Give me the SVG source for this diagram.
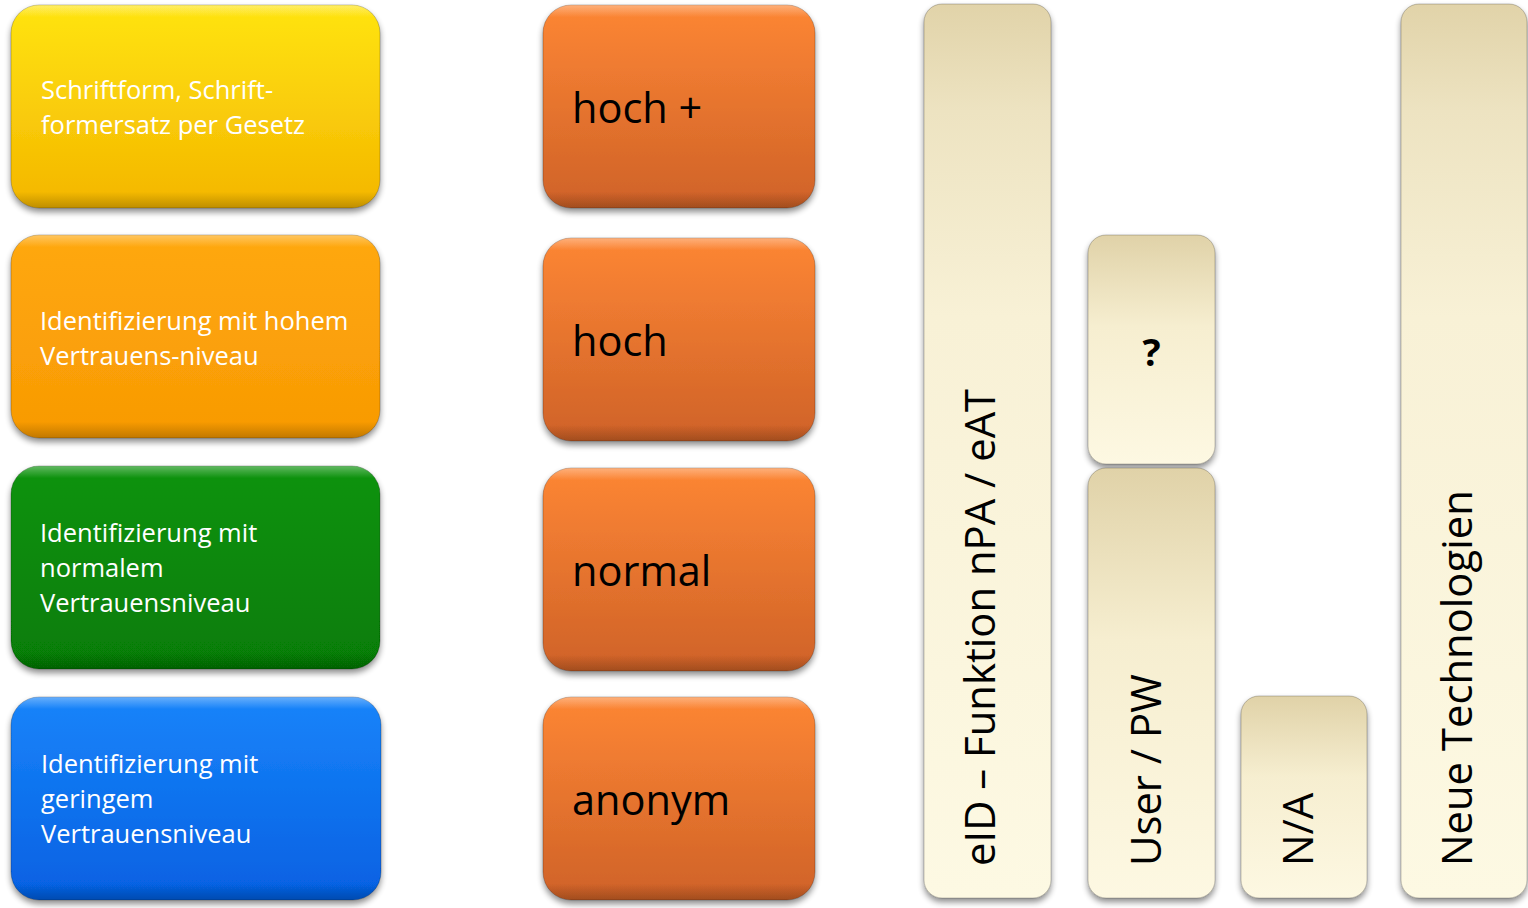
<svg xmlns="http://www.w3.org/2000/svg" width="1528" height="908" viewBox="0 0 1528 908">
  <defs>
    <linearGradient id="gYellow" x1="0" y1="0" x2="0" y2="1">
      <stop offset="0" stop-color="#ffe412"/>
      <stop offset="1" stop-color="#f4b600"/>
    </linearGradient>
    <linearGradient id="gOrangeL" x1="0" y1="0" x2="0" y2="1">
      <stop offset="0" stop-color="#ffa80c"/>
      <stop offset="1" stop-color="#f89a04"/>
    </linearGradient>
    <linearGradient id="gGreen" x1="0" y1="0" x2="0" y2="1">
      <stop offset="0" stop-color="#0d930d"/>
      <stop offset="1" stop-color="#067c06"/>
    </linearGradient>
    <linearGradient id="gBlue" x1="0" y1="0" x2="0" y2="1">
      <stop offset="0" stop-color="#1884fa"/>
      <stop offset="1" stop-color="#0560e2"/>
    </linearGradient>
    <linearGradient id="gOrangeM" x1="0" y1="0" x2="0" y2="1">
      <stop offset="0" stop-color="#fd8634"/>
      <stop offset="1" stop-color="#cf6228"/>
    </linearGradient>
    <linearGradient id="gBeige" x1="0" y1="0" x2="0" y2="1">
      <stop offset="0" stop-color="#e0d2a8"/>
      <stop offset="0.4" stop-color="#f6eed0"/>
      <stop offset="1" stop-color="#fdf8e2"/>
    </linearGradient>
    <linearGradient id="gBeigeLong" x1="0" y1="0" x2="0" y2="1">
      <stop offset="0" stop-color="#e1d3a9"/>
      <stop offset="0.12" stop-color="#ede3c1"/>
      <stop offset="0.35" stop-color="#f8f1d6"/>
      <stop offset="1" stop-color="#fdf9e3"/>
    </linearGradient>
    <linearGradient id="gShine" x1="0" y1="0" x2="0" y2="1">
      <stop offset="0" stop-color="#ffffff" stop-opacity="0.35"/>
      <stop offset="0.06" stop-color="#ffffff" stop-opacity="0"/>
      <stop offset="0.92" stop-color="#000000" stop-opacity="0"/>
      <stop offset="1" stop-color="#000000" stop-opacity="0.22"/>
    </linearGradient>
    <filter id="shadow" x="-10%" y="-10%" width="120%" height="120%">
      <feGaussianBlur in="SourceAlpha" stdDeviation="3"/>
      <feOffset dx="0" dy="4" result="b"/>
      <feComponentTransfer><feFuncA type="linear" slope="0.45"/></feComponentTransfer>
      <feMerge><feMergeNode/><feMergeNode in="SourceGraphic"/></feMerge>
    </filter>
  </defs>
  <style>
    .box { filter: url(#shadow); stroke: rgba(0,0,0,0.22); stroke-width: 1; }
    .shine { fill: url(#gShine); stroke: none; }
    .lt { font-family: "Open Sans", "Liberation Sans", sans-serif; font-size: 25.5px; fill: #ffffff; }
    .mt { font-family: "Open Sans", "Liberation Sans", sans-serif; font-size: 41.5px; fill: #000000; }
    .vt { font-family: "Open Sans", "Liberation Sans", sans-serif; font-size: 41.8px; fill: #000000; }
    .qt { font-family: "Open Sans", "Liberation Sans", sans-serif; font-size: 38px; font-weight: bold; fill: #000000; }
  </style>
  <rect width="1528" height="908" fill="#ffffff"/>

  <g id="n-schriftform">
    <rect class="box" x="11" y="5" width="369" height="203" rx="28" fill="url(#gYellow)"/>
    <rect class="shine" x="11" y="5" width="369" height="203" rx="28"/>
    <text class="lt" x="41" y="99">Schriftform, Schrift-</text>
    <text class="lt" x="41" y="134">formersatz per Gesetz</text>
  </g>
  <g id="n-hohem">
    <rect class="box" x="11" y="235" width="369" height="203" rx="28" fill="url(#gOrangeL)"/>
    <rect class="shine" x="11" y="235" width="369" height="203" rx="28"/>
    <text class="lt" x="40" y="330">Identifizierung mit hohem</text>
    <text class="lt" x="40" y="365">Vertrauens-niveau</text>
  </g>
  <g id="n-normalem">
    <rect class="box" x="11" y="466" width="369" height="203" rx="28" fill="url(#gGreen)"/>
    <rect class="shine" x="11" y="466" width="369" height="203" rx="28"/>
    <text class="lt" x="40" y="542">Identifizierung mit</text>
    <text class="lt" x="40" y="577">normalem</text>
    <text class="lt" x="40" y="612">Vertrauensniveau</text>
  </g>
  <g id="n-geringem">
    <rect class="box" x="11" y="697" width="370" height="203" rx="28" fill="url(#gBlue)"/>
    <rect class="shine" x="11" y="697" width="370" height="203" rx="28"/>
    <text class="lt" x="41" y="773">Identifizierung mit</text>
    <text class="lt" x="41" y="808">geringem</text>
    <text class="lt" x="41" y="843">Vertrauensniveau</text>
  </g>

  <g id="n-hochplus">
    <rect class="box" x="543" y="5" width="272" height="203" rx="28" fill="url(#gOrangeM)"/>
    <rect class="shine" x="543" y="5" width="272" height="203" rx="28"/>
    <text class="mt" x="572" y="123">hoch +</text>
  </g>
  <g id="n-hoch">
    <rect class="box" x="543" y="238" width="272" height="203" rx="28" fill="url(#gOrangeM)"/>
    <rect class="shine" x="543" y="238" width="272" height="203" rx="28"/>
    <text class="mt" x="572" y="356">hoch</text>
  </g>
  <g id="n-normal">
    <rect class="box" x="543" y="468" width="272" height="203" rx="28" fill="url(#gOrangeM)"/>
    <rect class="shine" x="543" y="468" width="272" height="203" rx="28"/>
    <text class="mt" x="572" y="586">normal</text>
  </g>
  <g id="n-anonym">
    <rect class="box" x="543" y="697" width="272" height="203" rx="28" fill="url(#gOrangeM)"/>
    <rect class="shine" x="543" y="697" width="272" height="203" rx="28"/>
    <text class="mt" x="572" y="815">anonym</text>
  </g>

  <g id="n-eid">
    <rect class="box" x="924" y="4" width="127" height="894" rx="18" fill="url(#gBeigeLong)"/>
    <text class="vt" transform="translate(995,866) rotate(-90)">eID – Funktion nPA / eAT</text>
  </g>
  <g id="n-frage">
    <rect class="box" x="1088" y="235" width="127" height="229" rx="18" fill="url(#gBeige)"/>
    <text class="qt" x="1151.5" y="366" text-anchor="middle">?</text>
  </g>
  <g id="n-userpw">
    <rect class="box" x="1088" y="468" width="127" height="430" rx="18" fill="url(#gBeige)"/>
    <text class="vt" transform="translate(1161,866) rotate(-90)">User / PW</text>
  </g>
  <g id="n-na">
    <rect class="box" x="1241" y="696" width="126" height="202" rx="18" fill="url(#gBeige)"/>
    <text class="vt" transform="translate(1313,866) rotate(-90)">N/A</text>
  </g>
  <g id="n-neue">
    <rect class="box" x="1401" y="4" width="126" height="894" rx="18" fill="url(#gBeigeLong)"/>
    <text class="vt" transform="translate(1472,866) rotate(-90)">Neue Technologien</text>
  </g>

  <g id="connectors"/>
</svg>
